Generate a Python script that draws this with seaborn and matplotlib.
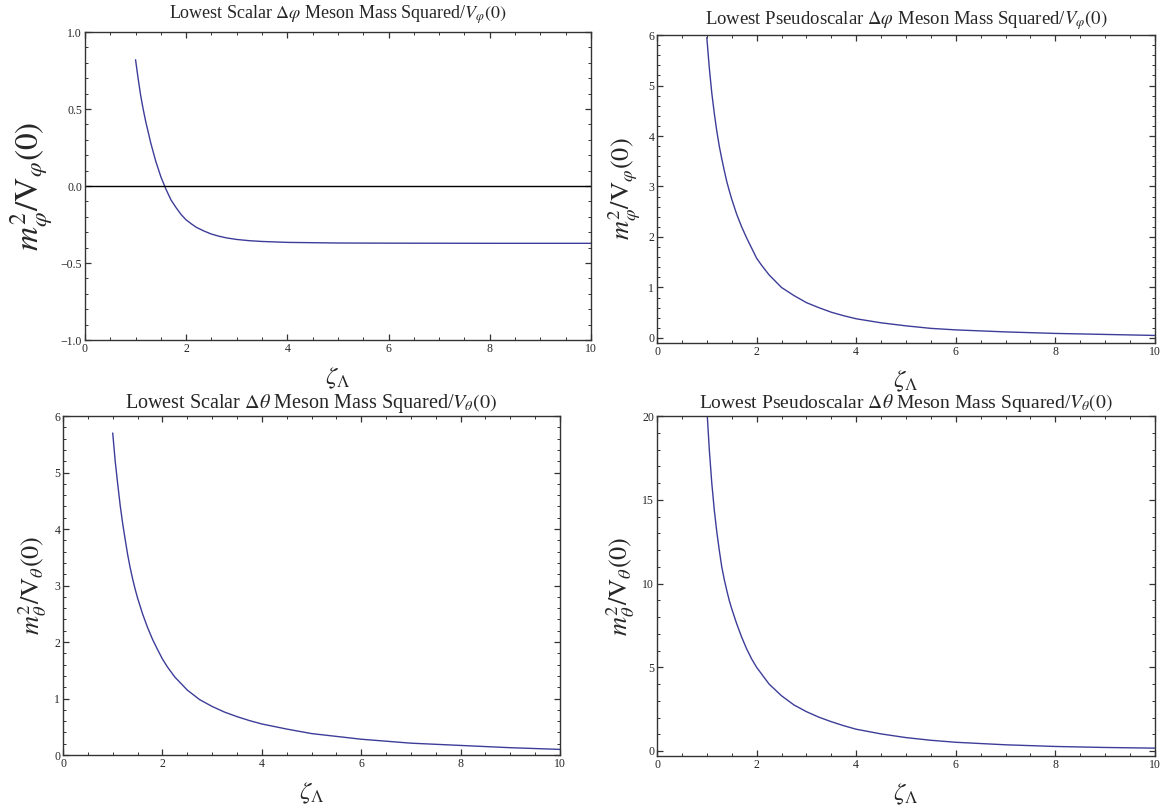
import numpy as np
import pandas as pd
import matplotlib
matplotlib.use("Agg")
import matplotlib.pyplot as plt
from matplotlib.ticker import MultipleLocator
import seaborn as sns

# values
zeta_1 = [1.0, 1.05, 1.1, 1.15, 1.2, 1.25, 1.3, 1.35, 1.4, 1.45, 1.5, 1.55, 1.6, 1.7, 1.8, 1.9, 2.0, 2.1, 2.2, 2.35, 2.5, 2.65, 2.8, 3.0, 3.25, 3.5, 4.0, 4.5, 5.0, 6.0, 8.0, 10.0]
scalar_phi = [0.82, 0.70, 0.59, 0.50, 0.42, 0.35, 0.28, 0.22, 0.16, 0.11, 0.06, 0.02, -0.02, -0.09, -0.14, -0.185, -0.22, -0.245, -0.268, -0.292, -0.312, -0.326, -0.337, -0.347, -0.355, -0.360, -0.366, -0.368, -0.370, -0.371, -0.372, -0.372]

zeta_2 = [1.0, 1.05, 1.1, 1.15, 1.2, 1.25, 1.3, 1.35, 1.4, 1.45, 1.5, 1.6, 1.7, 1.8, 1.9, 2.0, 2.1, 2.25, 2.5, 2.75, 3.0, 3.25, 3.5, 3.75, 4.0, 4.5, 5.0, 5.5, 6.0, 7.0, 8.0, 9.0, 10.0]
pseudo_phi = [5.95, 5.35, 4.85, 4.45, 4.1, 3.8, 3.55, 3.32, 3.1, 2.92, 2.75, 2.45, 2.2, 1.98, 1.78, 1.58, 1.44, 1.25, 1.0, 0.84, 0.70, 0.60, 0.51, 0.44, 0.38, 0.30, 0.24, 0.19, 0.16, 0.12, 0.09, 0.07, 0.05]

zeta_3 = [1.0, 1.05, 1.1, 1.15, 1.2, 1.25, 1.3, 1.35, 1.4, 1.45, 1.5, 1.6, 1.7, 1.8, 1.9, 2.0, 2.1, 2.25, 2.5, 2.75, 3.0, 3.25, 3.5, 3.75, 4.0, 4.5, 5.0, 5.5, 6.0, 7.0, 8.0, 9.0, 10.0]
scalar_theta = [5.7, 5.2, 4.8, 4.42, 4.1, 3.82, 3.55, 3.32, 3.12, 2.94, 2.78, 2.5, 2.26, 2.05, 1.87, 1.70, 1.56, 1.38, 1.15, 0.98, 0.86, 0.76, 0.68, 0.61, 0.55, 0.46, 0.38, 0.33, 0.28, 0.21, 0.17, 0.13, 0.10]

zeta_4 = [1.0, 1.05, 1.1, 1.15, 1.2, 1.25, 1.3, 1.35, 1.4, 1.45, 1.5, 1.6, 1.7, 1.8, 1.9, 2.0, 2.1, 2.25, 2.5, 2.75, 3.0, 3.25, 3.5, 3.75, 4.0, 4.5, 5.0, 5.5, 6.0, 7.0, 8.0, 9.0, 10.0]
pseudo_theta = [20.5, 18.0, 16.0, 14.4, 13.1, 12.0, 11.0, 10.25, 9.6, 9.0, 8.5, 7.6, 6.8, 6.1, 5.5, 5.0, 4.6, 4.0, 3.3, 2.75, 2.35, 2.02, 1.75, 1.51, 1.3, 1.02, 0.80, 0.64, 0.52, 0.37, 0.27, 0.21, 0.17]

sns.set_style("ticks")
plt.rcParams["font.family"] = ["Liberation Serif", "DejaVu Serif"]
plt.rcParams["mathtext.fontset"] = "stix"

line_color = "#3d3d99"
frame_color = "#333333"

fig = plt.figure(figsize=(11.67, 8.09), dpi=100)

panels = [
    dict(rect=[0.0728, 0.5797, 0.4336, 0.3807], x=zeta_1, y=scalar_phi,
         ylim=(-1.0, 1.0), major=0.5, minor=0.1, fmt="{:.1f}",
         title=r"Lowest Scalar $\Delta\varphi$ Meson Mass Squared/$V_\varphi(0)$",
         tsize=13, tpad=10,
         ylabel=r"$m^2_\varphi/\mathrm{V}_\varphi(0)$", ylsize=24, zero=True),
    dict(rect=[0.563, 0.576, 0.4267, 0.3807], x=zeta_2, y=pseudo_phi,
         ylim=(-0.1, 6.0), major=1, minor=0.2, fmt="{:.0f}",
         title=r"Lowest Pseudoscalar $\Delta\varphi$ Meson Mass Squared/$V_\varphi(0)$",
         tsize=13.5, tpad=8,
         ylabel=r"$m^2_\varphi/\mathrm{V}_\varphi(0)$", ylsize=19, zero=False),
    dict(rect=[0.054, 0.0667, 0.4259, 0.419], x=zeta_3, y=scalar_theta,
         ylim=(0.0, 6.0), major=1, minor=0.2, fmt="{:.0f}",
         title=r"Lowest Scalar $\Delta\theta$ Meson Mass Squared/$V_\theta(0)$",
         tsize=14.5, tpad=6,
         ylabel=r"$m^2_\theta/\mathrm{V}_\theta(0)$", ylsize=19, zero=False),
    dict(rect=[0.563, 0.0655, 0.4267, 0.420], x=zeta_4, y=pseudo_theta,
         ylim=(-0.3, 20.0), major=5, minor=1, fmt="{:.0f}",
         title=r"Lowest Pseudoscalar $\Delta\theta$ Meson Mass Squared/$V_\theta(0)$",
         tsize=14, tpad=6,
         ylabel=r"$m^2_\theta/\mathrm{V}_\theta(0)$", ylsize=19, zero=False),
]

for p in panels:
    ax = fig.add_axes(p["rect"])
    df = pd.DataFrame({"zeta": p["x"], "m2": p["y"]})
    sns.lineplot(data=df, x="zeta", y="m2", ax=ax, color=line_color, linewidth=1.0)
    if p["zero"]:
        ax.axhline(0, color="black", linewidth=1.0)
    ax.set_xlim(0, 10)
    ax.set_ylim(*p["ylim"])
    ax.xaxis.set_major_locator(MultipleLocator(2))
    ax.xaxis.set_minor_locator(MultipleLocator(0.5))
    ax.yaxis.set_major_locator(MultipleLocator(p["major"]))
    ax.yaxis.set_minor_locator(MultipleLocator(p["minor"]))
    ticks = ax.get_yticks()
    ticks = [t for t in ticks if p["ylim"][0] - 1e-9 <= t <= p["ylim"][1] + 1e-9]
    ax.set_yticks(ticks)
    ax.set_yticklabels([p["fmt"].format(t).replace("-", "\u2212") for t in ticks])
    ax.set_xticks([0, 2, 4, 6, 8, 10])
    ax.set_xticklabels(["0", "2", "4", "6", "8", "10"])
    ax.tick_params(which="both", direction="in", top=True, right=True,
                   labelsize=8.5, pad=2, color=frame_color)
    ax.tick_params(which="major", length=4, width=0.9)
    ax.tick_params(which="minor", length=2, width=0.7)
    for s in ax.spines.values():
        s.set_color(frame_color)
        s.set_linewidth(1.0)
    ax.set_title(p["title"], fontsize=p["tsize"], pad=p["tpad"])
    ax.set_xlabel(r"$\zeta_\Lambda$", fontsize=18, labelpad=8)
    ax.set_ylabel(p["ylabel"], fontsize=p["ylsize"], labelpad=4)

fig.savefig("out.png", dpi=100)
